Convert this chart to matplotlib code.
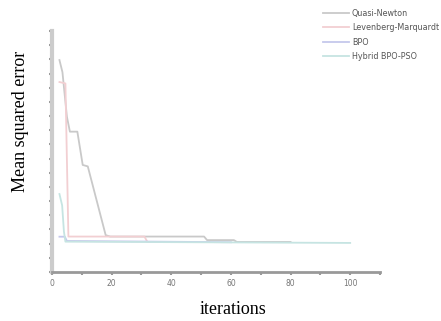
import matplotlib
matplotlib.use('Agg')
import matplotlib.pyplot as plt

# values (y axis has no labels, arbitrary units)
qn_iter = [2.5, 3.5, 5, 6, 8.5, 10.3, 12, 18, 19.5, 51, 52, 61, 62, 80]
qn_mse = [14.95, 14.1, 10.95, 9.9, 9.9, 7.55, 7.45, 2.6, 2.5, 2.5, 2.25, 2.25, 2.12, 2.12]

lm_iter = [2.5, 4.5, 5.5, 31, 32, 33]
lm_mse = [13.4, 13.3, 2.5, 2.5, 2.12, 2.12]

bpo_iter = [2.5, 4.3, 5, 60]
bpo_mse = [2.49, 2.49, 2.19, 2.1]

hyb_iter = [2.5, 3.4, 4, 4.5, 100]
hyb_mse = [5.5, 4.7, 2.85, 2.14, 2.05]

labels = ['Quasi-Newton', 'Levenberg-Marquardt', 'BPO', 'Hybrid BPO-PSO']
colors = ['#c9c9c9', '#f2cfd2', '#c5c8ec', '#c6e4e2']

fig = plt.figure(figsize=(4.41, 3.21), dpi=100)
ax = fig.add_axes([52 / 441, 1 - 272 / 321, (380 - 52) / 441, (272 - 31) / 321])

series = [(qn_iter, qn_mse), (lm_iter, lm_mse), (bpo_iter, bpo_mse), (hyb_iter, hyb_mse)]
for (xs, ys), lab, c in zip(series, labels, colors):
    ax.plot(xs, ys, color=c, lw=1.3, label=lab)

ax.set_xlim(0, 110)
ax.set_ylim(0, 17)
ax.set_xticks(range(0, 101, 20))
ax.set_xticks(range(10, 111, 20), minor=True)
ax.set_yticks(range(0, 18))
ax.set_yticklabels([])
ax.tick_params(axis='x', which='both', length=2, width=1.5, color='#999999',
               labelsize=5.5, labelcolor='#777777', pad=3)
ax.tick_params(axis='y', length=2, width=1.5, color='#999999')
for s in ['top', 'right']:
    ax.spines[s].set_visible(False)
ax.spines['left'].set_color('#cccccc')
ax.spines['left'].set_linewidth(3)
ax.spines['bottom'].set_color('#999999')
ax.spines['bottom'].set_linewidth(2)

fig.text(233 / 441, 1 - 309 / 321, 'iterations', family='Liberation Serif',
         fontsize=13, ha='center', va='center')
fig.text(21 / 441, 1 - 121 / 321, 'Mean squared error', family='Liberation Serif',
         fontsize=13, ha='center', va='center', rotation=90)

fig.legend(loc='upper left', bbox_to_anchor=(323 / 441, 1 - 9 / 321), frameon=False,
           fontsize=5.8, handlelength=3.2, handletextpad=0.4, labelspacing=0.66,
           borderpad=0, borderaxespad=0, labelcolor='#555555')

fig.savefig('out.png', dpi=100)
